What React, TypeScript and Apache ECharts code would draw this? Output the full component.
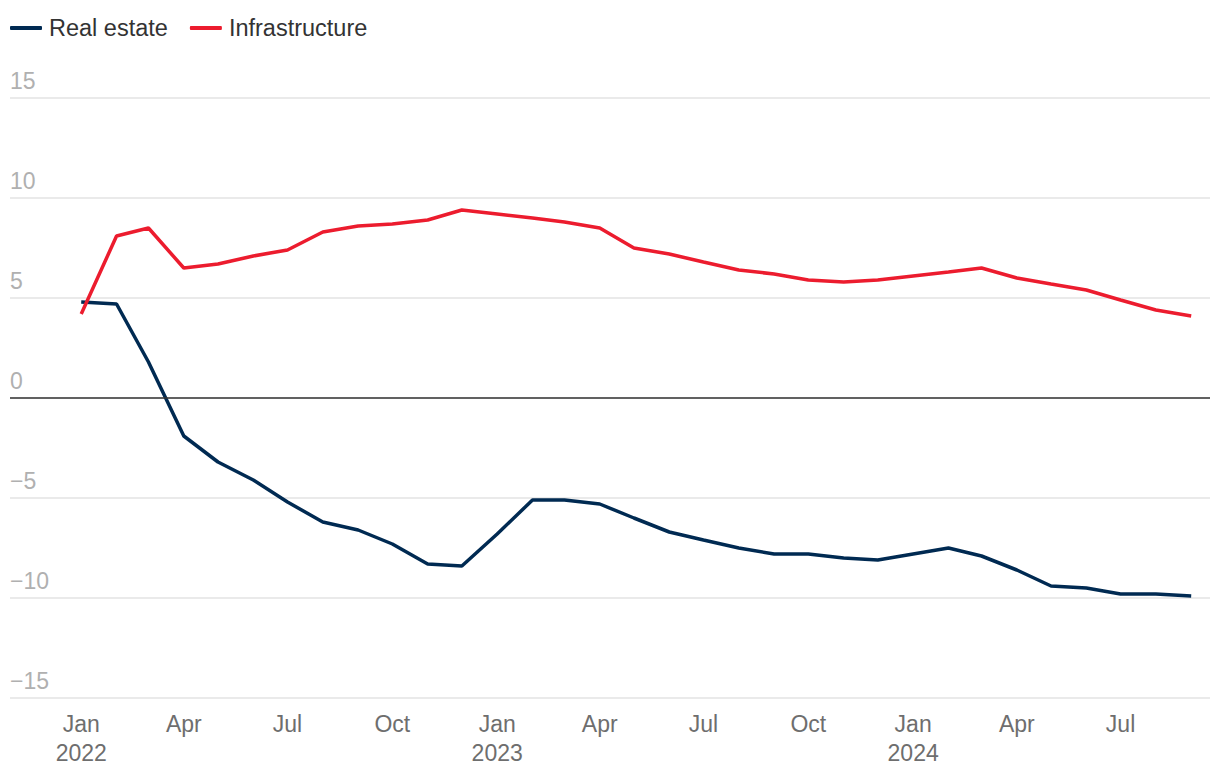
import React, { useEffect, useRef } from "react";
import * as echarts from "echarts";

const DAY = 24 * 3600 * 1000;
const startYear = 2022;
const monthCount = 33; // Jan 2022 .. Sep 2024
const monthNames = ["Jan", "Feb", "Mar", "Apr", "May", "Jun", "Jul", "Aug", "Sep", "Oct", "Nov", "Dec"];
const tickMonths = ["Jan", "Apr", "Jul", "Oct"];

const realEstate = [
  4.8, 4.7, 1.8, -1.9, -3.2, -4.1, -5.2, -6.2, -6.6, -7.3, -8.3, -8.4,
  -6.8, -5.1, -5.1, -5.3, -6.0, -6.7, -7.1, -7.5, -7.8, -7.8, -8.0, -8.1,
  -7.8, -7.5, -7.9, -8.6, -9.4, -9.5, -9.8, -9.8, -9.9,
];
const infrastructure = [
  4.2, 8.1, 8.5, 6.5, 6.7, 7.1, 7.4, 8.3, 8.6, 8.7, 8.9, 9.4,
  9.2, 9.0, 8.8, 8.5, 7.5, 7.2, 6.8, 6.4, 6.2, 5.9, 5.8, 5.9,
  6.1, 6.3, 6.5, 6.0, 5.7, 5.4, 4.9, 4.4, 4.1,
];

const monthStamp = (i: number) => Date.UTC(startYear + Math.floor(i / 12), i % 12, 1);
const months = Array.from({ length: monthCount }, (_, i) => monthStamp(i));
const labelStamps = months.filter((t) => tickMonths.includes(monthNames[new Date(t).getUTCMonth()]));

const FONT = "'Liberation Sans', Arial, Helvetica, sans-serif";

export default function App() {
  const ref = useRef<HTMLDivElement>(null);
  useEffect(() => {
    if (!ref.current) return;
    const chart = echarts.init(ref.current, undefined, { renderer: "svg" });
    chart.setOption({
      animation: false,
      textStyle: { fontFamily: FONT },
      legend: {
        left: 10,
        top: 16,
        padding: 0,
        itemWidth: 32,
        itemHeight: 4,
        itemGap: 22,
        icon: "roundRect",
        textStyle: { fontSize: 23.5, color: "#333", fontFamily: FONT, padding: [0, 0, 0, 2] },
        data: ["Real estate", "Infrastructure"],
      },
      grid: { left: 10, right: 10, top: 98, bottom: 76, containLabel: false },
      xAxis: {
        type: "value",
        min: months[0] - 62.5 * DAY,
        max: months[monthCount - 1] + 16.5 * DAY,
        axisLine: { show: false },
        axisTick: { show: false },
        splitLine: { show: false },
        axisLabel: {
          customValues: labelStamps,
          fontSize: 23,
          lineHeight: 29,
          margin: 11,
          color: "#6e6e6e",
          fontFamily: FONT,
          formatter: (v: number) => {
            const d = new Date(v);
            const m = monthNames[d.getUTCMonth()];
            return m === "Jan" ? m + "\n" + d.getUTCFullYear() : m;
          },
        },
      },
      yAxis: {
        type: "value",
        min: -15,
        max: 15,
        interval: 5,
        axisLine: { show: false },
        axisTick: { show: false },
        splitLine: { show: true, lineStyle: { color: "#e3e3e3", width: 1.5 } },
        axisLabel: {
          inside: true,
          margin: 0,
          align: "left",
          verticalAlign: "bottom",
          fontSize: 23,
          lineHeight: 23,
          padding: [0, 0, 6, 0],
          color: "#b0b0b0",
          fontFamily: FONT,
          formatter: (v: number) => (v < 0 ? "\u2212" + Math.abs(v) : String(v)),
        },
      },
      series: [
        {
          name: "Real estate",
          type: "line",
          data: months.map((t, i) => [t, realEstate[i]]),
          showSymbol: false,
          symbol: "none",
          color: "#002a52",
          lineStyle: { width: 3.5, color: "#002a52" },
          markLine: {
            silent: true,
            symbol: "none",
            label: { show: false },
            lineStyle: { color: "#333", width: 1.5, type: "solid" },
            data: [{ yAxis: 0 }],
          },
        },
        {
          name: "Infrastructure",
          type: "line",
          data: months.map((t, i) => [t, infrastructure[i]]),
          showSymbol: false,
          symbol: "none",
          color: "#ec1c2e",
          lineStyle: { width: 3.5, color: "#ec1c2e" },
        },
      ],
    });
    return () => chart.dispose();
  }, []);
  return <div ref={ref} style={{ position: "fixed", left: 0, top: 0, width: 1220, height: 774, background: "#fff" }} />;
}
